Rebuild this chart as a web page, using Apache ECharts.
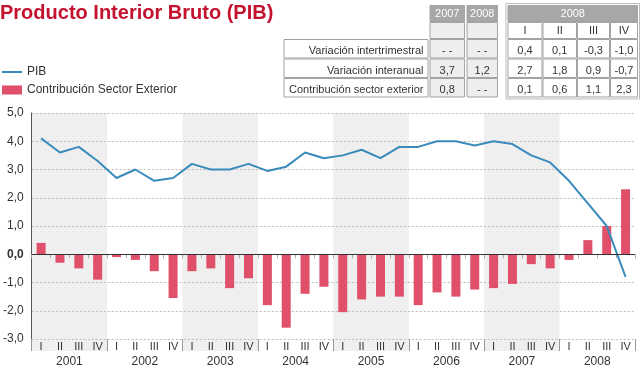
<!DOCTYPE html>
<html>
<head>
<meta charset="utf-8">
<script src="https://cdn.jsdelivr.net/npm/echarts@6/dist/echarts.min.js"></script>
<style>
html,body{margin:0;padding:0;background:#fff;}
#c{width:640px;height:368px;}
</style>
</head>
<body>
<div id="c"></div>
<script>
// ---------- data ----------
const years = ['2001','2002','2003','2004','2005','2006','2007','2008'];
const quarters = ['I','II','III','IV'];
const categories = years.flatMap(y => quarters.map(q => y + ' ' + q));
const shadedYears = ['2001','2003','2005','2007'];

const pibValues = [4.1,3.6,3.8,3.3, 2.7,3.0,2.6,2.7, 3.2,3.0,3.0,3.2, 2.95,3.1,3.6,3.4,
                   3.5,3.7,3.4,3.8, 3.8,4.0,4.0,3.85, 4.0,3.9,3.5,3.25, 2.6,1.8,1.0,-0.8];
const contribValues = [0.4,-0.3,-0.5,-0.9, -0.1,-0.2,-0.6,-1.55, -0.6,-0.5,-1.2,-0.85, -1.8,-2.6,-1.4,-1.15,
                       -2.05,-1.6,-1.5,-1.5, -1.8,-1.35,-1.5,-1.25, -1.2,-1.05,-0.35,-0.5, -0.2,0.5,1.0,2.3];
const yMin = -3, yMax = 5, yStep = 1;

const titleText = 'Producto Interior Bruto (PIB)';
const seriesNames = ['PIB', 'Contribución Sector Exterior'];

// table
const tableAnnualHeaders = ['2007','2008'];
const tableQuarterHeader = '2008';
const tableQuarterCols = ['I','II','III','IV'];
const tableRowLabels = ['Variación intertrimestral','Variación interanual','Contribución sector exterior'];
const tableAnnual = [['- -','- -'],['3,7','1,2'],['0,8','- -']];
const tableQuarterly = [['0,4','0,1','-0,3','-1,0'],['2,7','1,8','0,9','-0,7'],['0,1','0,6','1,1','2,3']];

// ---------- layout / style ----------
const FONT = 'Liberation Sans, Arial, Helvetica, sans-serif';
const LINE_COLOR = '#3a8bbb', BAR_COLOR = '#e0506a';
const lay = {
  labelX: [283.5, 428.5],
  annualX: [[429.5, 465], [466.5, 498]],
  quarterX: [[507.5, 542.5], [542.5, 577], [577, 610], [610, 638]],
  rowY: [[5, 22], [22, 39], [39, 58.5], [58.5, 78], [78, 97.5]],
  textY: [14, 31, 51, 70.5, 90]
};
const C = { head: '#a7a7a7', light: '#eeeeee', border: '#a3a3a3', text: '#333' };

function cell(x0, x1, y0, y1, fill) {
  return { type: 'rect', shape: { x: x0 + 0.5, y: y0 + 0.5, width: x1 - x0 - 1, height: y1 - y0 - 1 },
           style: { fill: fill, stroke: C.border, lineWidth: 1 }, silent: true };
}
function txt(x, y, s, align, color) {
  return { type: 'text', x: x, y: y, silent: true,
           style: { text: s, font: '11px ' + FONT, fill: color || C.text,
                    align: align || 'center', verticalAlign: 'middle',
                    textAlign: align || 'center', textVerticalAlign: 'middle' } };
}
const g = [];
// left block
tableAnnualHeaders.forEach((h, j) => {
  const [x0, x1] = lay.annualX[j];
  g.push(cell(x0, x1, lay.rowY[0][0], lay.rowY[0][1], C.head));
  g.push(txt((x0 + x1) / 2, lay.textY[0], h, 'center', '#fff'));
  g.push(cell(x0, x1, lay.rowY[1][0], lay.rowY[1][1], C.light));
});
tableRowLabels.forEach((lab, r) => {
  const [y0, y1] = lay.rowY[r + 2];
  g.push(cell(lay.labelX[0], lay.labelX[1], y0, y1, '#fff'));
  g.push(txt(lay.labelX[1] - 5, lay.textY[r + 2], lab, 'right'));
  tableAnnual[r].forEach((v, j) => {
    const [x0, x1] = lay.annualX[j];
    g.push(cell(x0, x1, y0, y1, C.light));
    g.push(txt((x0 + x1) / 2, lay.textY[r + 2], v));
  });
});
// right block
const qx0 = lay.quarterX[0][0], qx1 = lay.quarterX[3][1];
g.push({ type: 'rect', shape: { x: qx0 - 1.5, y: lay.rowY[0][0] - 1.5, width: qx1 - qx0 + 3, height: lay.rowY[4][1] - lay.rowY[0][0] + 3 },
         style: { fill: '#fff', stroke: '#bbb', lineWidth: 1 }, silent: true });
g.push(cell(qx0, qx1, lay.rowY[0][0], lay.rowY[0][1], C.head));
g.push(txt((qx0 + qx1) / 2, lay.textY[0], tableQuarterHeader, 'center', '#fff'));
tableQuarterCols.forEach((q, j) => {
  const [x0, x1] = lay.quarterX[j];
  g.push(cell(x0, x1, lay.rowY[1][0], lay.rowY[1][1], '#fff'));
  g.push(txt((x0 + x1) / 2, lay.textY[1], q));
  tableQuarterly.forEach((row, r) => {
    const [y0, y1] = lay.rowY[r + 2];
    g.push(cell(x0, x1, y0, y1, '#fff'));
    g.push(txt((x0 + x1) / 2, lay.textY[r + 2], row[j]));
  });
});

const legendText = { fontSize: 12, color: '#333', fontFamily: FONT };
const chart = echarts.init(document.getElementById('c'));
chart.setOption({
  animation: false,
  textStyle: { fontFamily: FONT },
  title: { text: titleText, left: 0, top: 3, padding: 0,
           textStyle: { fontSize: 20, fontWeight: 'bold', color: '#c4122f', fontFamily: FONT } },
  legend: [
    { left: 2, top: 66, padding: 0, itemWidth: 20, itemHeight: 2, icon: 'rect', itemGap: 4,
      textStyle: legendText, data: [seriesNames[0]] },
    { left: 2, top: 84, padding: 0, itemWidth: 20, itemHeight: 9, icon: 'rect', itemGap: 4,
      textStyle: legendText, data: [seriesNames[1]] }
  ],
  graphic: g,
  grid: { left: 30, right: 5, top: 113, bottom: 28 },
  xAxis: [
    { type: 'category', data: categories, boundaryGap: true,
      axisLine: { show: false },
      axisTick: { show: true, interval: 0, length: 4, lineStyle: { color: '#aaa' } },
      axisLabel: { interval: 0, fontSize: 11, color: '#333', margin: 2, formatter: v => v.split(' ')[1] },
      splitLine: { show: false } },
    { type: 'category', data: years, position: 'bottom', boundaryGap: true,
      axisLine: { show: false },
      axisTick: { show: true, interval: 0, length: 12, lineStyle: { color: '#999' } },
      axisLabel: { interval: 0, fontSize: 12, color: '#333', margin: 17 },
      splitLine: { show: false } }
  ],
  yAxis: {
    type: 'value', min: yMin, max: yMax, interval: yStep,
    axisLine: { show: true, lineStyle: { color: '#555' } },
    axisTick: { show: false },
    axisLabel: { fontSize: 12, color: '#333', margin: 8,
      formatter: v => { const s = v.toFixed(1).replace('.', ','); return v === 0 ? '{b|' + s + '}' : s; },
      rich: { b: { fontWeight: 'bold', fontSize: 12, color: '#333', fontFamily: FONT } } },
    splitLine: { show: true, lineStyle: { color: '#bbb', type: [2, 2] } }
  },
  series: [
    { type: 'custom', name: 'bands', xAxisIndex: 1, yAxisIndex: 0, z: -1, silent: true, clip: false,
      data: shadedYears.map(y => [years.indexOf(y)]),
      renderItem: (params, api) => {
        const x = api.value(0);
        const top = api.coord([x, yMax]);
        const bot = api.coord([x, yMin]);
        const w = api.size([1, 0])[0];
        return { type: 'rect', shape: { x: top[0] - w / 2, y: top[1], width: w, height: bot[1] - top[1] + 12 },
                 style: { fill: '#efefef' } };
      } },
    { type: 'bar', name: seriesNames[1], xAxisIndex: 0, data: contribValues, barWidth: 9,
      itemStyle: { color: BAR_COLOR }, z: 2,
      markLine: { silent: true, symbol: 'none', label: { show: false },
                  lineStyle: { color: '#333', type: 'solid', width: 1 }, data: [{ yAxis: 0 }] } },
    { type: 'line', name: seriesNames[0], xAxisIndex: 0, data: pibValues, symbol: 'none',
      lineStyle: { color: LINE_COLOR, width: 2 }, itemStyle: { color: LINE_COLOR }, z: 4 }
  ]
});
</script>
</body>
</html>
